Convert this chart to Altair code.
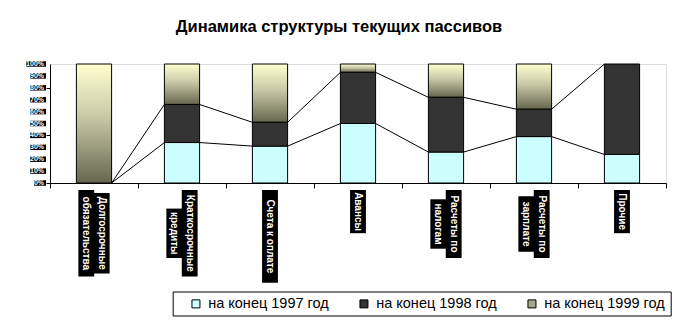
import altair as alt
import pandas as pd

# ---- data ----
categories = ["Долгосрочные обязательства", "Краткосрочные кредиты", "Счета к оплате",
              "Авансы", "Расчеты по налогам", "Расчеты по зарплате", "Прочие"]
label_lines = [["Долгосрочные", "обязательства"], ["Краткосрочные", "кредиты"],
               ["Счета к оплате"], ["Авансы"], ["Расчеты по", "налогам"],
               ["Расчеты по", "зарплате"], ["Прочие"]]
series = ["на конец 1997 год", "на конец 1998 год", "на конец 1999 год"]
v1997 = [0, 34, 31, 50, 26, 39, 24]
v1998 = [0, 32, 20, 43, 46, 23, 76]
v1999 = [100, 34, 49, 7, 28, 38, 0]
y_ticks = [0, 10, 20, 30, 40, 50, 60, 70, 80, 90, 100]
title = "Динамика структуры текущих пассивов"

colors = ["#CCFFFF", "#333333", "#A8A888"]
FONT = "Liberation Sans"
W, H = 616, 119

# ---- tables built from the arrays ----
rows = []
for i in range(len(categories)):
    lo = 0
    for s, vals in zip(series, [v1997, v1998, v1999]):
        rows.append({"idx": i, "cat": categories[i], "series": s, "lo": lo, "hi": lo + vals[i]})
        lo += vals[i]
bars = pd.DataFrame(rows)

cum1 = v1997
cum2 = [a + b for a, b in zip(v1997, v1998)]
lrows = []
for i in range(len(categories) - 1):
    for cum in (cum1, cum2):
        lrows.append({"idx": i, "y": cum[i], "y2": cum[i + 1]})
lines = pd.DataFrame(lrows)

xl_rows = []
for i, lines_ in enumerate(label_lines):
    mx = max(len(t) for t in lines_)
    for j, t in enumerate(lines_):
        xl_rows.append({"idx": i, "line": j, "n": len(lines_), "t": t, "mx": mx})
xlabels = pd.DataFrame(xl_rows)

ylabels = pd.DataFrame({"v": y_ticks, "t": [f"{v}%" for v in y_ticks]})

xscale = alt.Scale(domain=[0, 7], nice=False, zero=False)
yscale = alt.Scale(domain=[0, 100], nice=False)
xaxis = alt.Axis(values=list(range(8)), labels=False, ticks=True, tickSize=5,
                 tickColor="black", domainColor="black", grid=False, title=None)
yaxis = alt.Axis(values=y_ticks, labels=False, ticks=True, tickSize=4,
                 tickColor="black", domainColor="black", grid=False, title=None)

base = alt.Chart(bars).transform_calculate(
    xl="datum.idx + 0.3", xr="datum.idx + 0.7"
).transform_filter("datum.hi > datum.lo")

main_bars = base.transform_filter(
    alt.FieldOneOfPredicate(field="series", oneOf=series[:2])
).mark_bar(stroke="black", strokeWidth=1).encode(
    x=alt.X("xl:Q", scale=xscale, axis=xaxis),
    x2="xr:Q",
    y=alt.Y("lo:Q", scale=yscale, axis=yaxis),
    y2="hi:Q",
    color=alt.Color("series:N", scale=alt.Scale(domain=series, range=colors),
                    legend=alt.Legend(title=None, orient="none", legendX=122.7, legendY=227.5,
                                      direction="horizontal", symbolType="square",
                                      symbolSize=64, symbolStrokeColor="black",
                                      symbolStrokeWidth=1, symbolOffset=11,
                                      labelFont=FONT, labelFontSize=14.5, labelColor="black",
                                      labelOffset=5, columnPadding=16, padding=5,
                                      strokeColor="black", fillColor="white")),
)

gradient = {"gradient": "linear", "x1": 0, "y1": 0, "x2": 0, "y2": 1,
            "stops": [{"offset": 0, "color": "#FFFFD0"},
                      {"offset": 0.45, "color": "#C8C8A6"},
                      {"offset": 1, "color": "#66664E"}]}
bars99 = base.transform_filter(
    alt.FieldEqualPredicate(field="series", equal=series[2])
).mark_bar(color=gradient, stroke="black", strokeWidth=1).encode(
    x=alt.X("xl:Q", scale=xscale, axis=xaxis),
    x2="xr:Q",
    y=alt.Y("lo:Q", scale=yscale, axis=yaxis),
    y2="hi:Q",
)

series_lines = alt.Chart(lines).transform_calculate(
    xa="datum.idx + 0.7", xb="datum.idx + 1.3"
).mark_rule(color="black", strokeWidth=1).encode(
    x=alt.X("xa:Q", scale=xscale), x2="xb:Q",
    y=alt.Y("y:Q", scale=yscale), y2="y2:Q",
)

# y labels: white on black boxes
ybox = alt.Chart(ylabels).transform_calculate(
    bx="-4 - (length(datum.t) - 1) * 3.9 - 8", lo="datum.v - 2.3", hi="datum.v + 2.3"
).mark_rect(color="black").encode(
    x=alt.X("bx:Q", scale=None), x2=alt.value(-4),
    y=alt.Y("lo:Q", scale=yscale), y2="hi:Q",
)
ytext = alt.Chart(ylabels).mark_text(
    font=FONT, fontSize=7, fontWeight="bold", color="white", align="right", baseline="middle", dx=-1
).encode(
    x=alt.value(-5), y=alt.Y("v:Q", scale=yscale), text="t:N",
)

# x labels: rotated white text on black boxes
xcalc = dict(
    xc="datum.idx + 0.5 + (datum.n == 2 ? (datum.line == 0 ? 0.0875 : -0.0875) : 0)",
    ln="length(datum.t) * 6.2 + 6",
    blk="datum.mx * 6.2 + 6",
)
xbox = alt.Chart(xlabels).transform_calculate(**xcalc).transform_calculate(
    bx1="datum.xc - 0.09", bx2="datum.xc + 0.09",
    yc="126 + datum.blk / 2",
).transform_calculate(
    by1="datum.yc - datum.ln / 2", by2="datum.yc + datum.ln / 2"
).mark_rect(color="black").encode(
    x=alt.X("bx1:Q", scale=xscale), x2="bx2:Q",
    y=alt.Y("by1:Q", scale=None), y2="by2:Q",
)
xtext = alt.Chart(xlabels).transform_calculate(**xcalc).transform_calculate(
    yc="126 + datum.blk / 2"
).mark_text(
    font=FONT, fontSize=10, fontWeight="bold", color="white", angle=90,
    align="center", baseline="middle"
).encode(
    x=alt.X("xc:Q", scale=xscale), y=alt.Y("yc:Q", scale=None), text="t:N",
)

chart = alt.layer(
    bars99, main_bars, series_lines, ybox, ytext, xbox, xtext
).properties(
    width=W, height=H,
    title=alt.Title(title, font=FONT, fontSize=16.5, fontWeight="bold", color="black",
                    anchor="middle", frame="group", dx=-19, offset=25),
    autosize=alt.AutoSizeParams(type="none"),
    padding={"left": 50, "top": 64, "right": 16, "bottom": 140},
).configure_view(
    stroke="#808080", strokeWidth=1
).configure_legend(
    strokeColor="black", strokeWidth=1
).configure(background="white")

chart.save("out.html", embed_options={"renderer": "svg", "actions": False})
